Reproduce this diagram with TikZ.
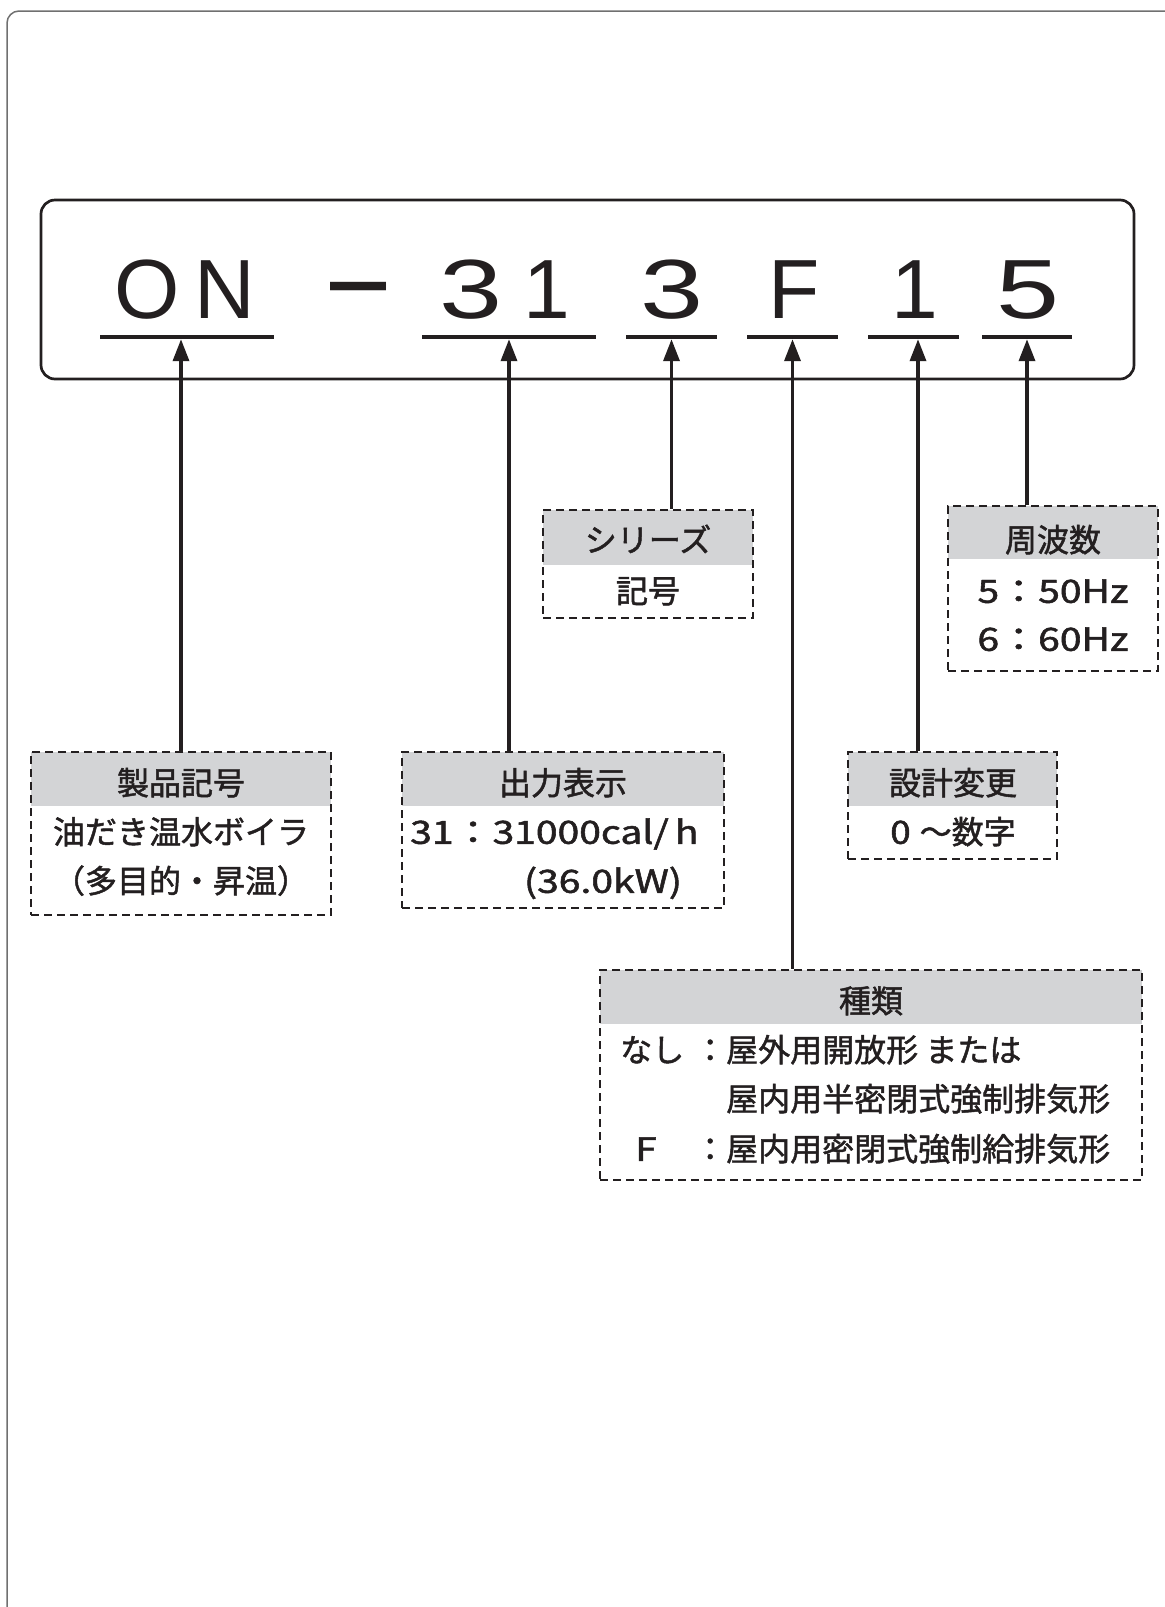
\documentclass[tikz,border=0pt]{standalone}
\usepackage{fontspec}
\setmainfont{Noto Sans CJK JP}[FakeBold=1.5]
\newfontfamily\bigfont{Liberation Sans}
\usetikzlibrary{arrows.meta}
\definecolor{ink}{HTML}{231F20}
\definecolor{hdr}{HTML}{D3D4D6}
\definecolor{framec}{HTML}{707070}
\newcommand{\wideLat}[1]{\scalebox{1.22}[1]{#1}}
\begin{document}
\begin{tikzpicture}[x=1pt,y=-1pt,
  txt/.style={font=\fontsize{32}{38}\selectfont, text=ink, inner sep=0pt, text height=0.88em, text depth=0.12em, yshift=-10pt},
  big/.style={font=\bigfont\fontsize{84}{90}\selectfont, text=ink, inner sep=0pt, anchor=base},
  uline/.style={fill=ink, inner sep=0pt, minimum height=4pt},
  dbox/.style={draw=ink, line width=2.5pt, dash pattern=on 8pt off 5pt, inner sep=0pt},
  hdrbox/.style={fill=hdr, inner sep=0pt},
  arr/.style={draw=ink, line width=3.5pt, -{Triangle[length=22pt,width=16pt]}},
]
\useasboundingbox (0,0) rectangle (1165,1607);
% outer frame
\draw[framec, line width=1.5pt, rounded corners=12pt] (1170,11) -- (7,11) -- (7,1612);
% main box
\node[draw=ink, line width=2.7pt, rounded corners=14pt, minimum width=1093pt, minimum height=179pt, inner sep=0pt] (main) at (587.5,289.5) {};
% big characters
\node[big] (cO) at (147.5,318) {O};
\node[big] (cN) at (225,318) {N};
\node[big] (cdash) at (359,318) {\scalebox{1.2}[1.5]{–}};
\node[big] (c3a) at (471,318) {\scalebox{1.35}[1]{3}};
\node[big] (c1a) at (547,318) {1};
\node[big] (c3b) at (672,318) {\scalebox{1.35}[1]{3}};
\node[big] (cF) at (794,318) {F};
\node[big] (c1b) at (914.5,318) {1};
\node[big] (c5) at (1028,318) {\scalebox{1.35}[1]{5}};
% underlines
\node[uline, minimum width=174pt] (uON) at (187,337) {};
\node[uline, minimum width=174pt] (u31) at (509,337) {};
\node[uline, minimum width=91pt] (u3) at (671.5,337) {};
\node[uline, minimum width=91pt] (uF) at (792.5,337) {};
\node[uline, minimum width=91pt] (u1) at (913.5,337) {};
\node[uline, minimum width=90pt] (u5) at (1027,337) {};
% box 1
\node[hdrbox, minimum width=300pt, minimum height=54pt] (h1) at (181,779) {};
\node[dbox, minimum width=300pt, minimum height=163pt] (b1) at (181,833.5) {};
\node[txt] (t1a) at (181,781) {製品記号};
\node[txt] (t1b) at (181,830) {油だき温水ボイラ};
\node[txt] (t1c) at (181,879) {（多目的・昇温）};
% box 2
\node[hdrbox, minimum width=322pt, minimum height=54pt] (h2) at (563,779) {};
\node[dbox, minimum width=322pt, minimum height=156pt] (b2) at (563,830) {};
\node[txt] (t2a) at (563,781) {出力表示};
\node[txt, anchor=west] (t2b) at (410,830) {\wideLat{31：31000cal/\hspace{5pt}h}};
\node[txt] (t2c) at (603,879) {\wideLat{(36.0kW)}};
% box 3
\node[hdrbox, minimum width=210pt, minimum height=55pt] (h3) at (648,537.5) {};
\node[dbox, minimum width=210pt, minimum height=108pt] (b3) at (648,564) {};
\node[txt] (t3a) at (648,538) {シリーズ};
\node[txt] (t3b) at (648,589) {記号};
% box 4
\node[hdrbox, minimum width=210pt, minimum height=53pt] (h4) at (1053,532.5) {};
\node[dbox, minimum width=210pt, minimum height=165pt] (b4) at (1053,588.5) {};
\node[txt] (t4a) at (1053,538) {周波数};
\node[txt] (t4b) at (1053,589) {\wideLat{5：50Hz}};
\node[txt] (t4c) at (1053,637) {\wideLat{6：60Hz}};
% box 5
\node[hdrbox, minimum width=209pt, minimum height=54pt] (h5) at (952.5,779) {};
\node[dbox, minimum width=209pt, minimum height=107pt] (b5) at (952.5,805.5) {};
\node[txt] (t5a) at (953,781) {設計変更};
\node[txt] (t5b) at (953,830) {\scalebox{1.15}[1]{0}\hspace{9pt}～数字};
% box 6
\node[hdrbox, minimum width=542pt, minimum height=54pt] (h6) at (871,997) {};
\node[dbox, minimum width=542pt, minimum height=210pt] (b6) at (871,1075) {};
\node[txt] (t6a) at (871,999) {種類};
\node[txt, anchor=west] (t6b) at (620,1048) {なし};
\node[txt, anchor=west] (t6c) at (694,1048) {：屋外用開放形 または};
\node[txt, anchor=west] (t6d) at (726,1097) {屋内用半密閉式強制排気形};
\node[txt] (t6e) at (646,1147) {\wideLat{F}};
\node[txt, anchor=west] (t6f) at (694,1147) {：屋内用密閉式強制給排気形};
% arrows
\coordinate (a1) at ([xshift=4.5pt]u1.south);
\draw[arr] (b1.north) -- (b1.north |- uON.south);
\draw[arr] (u31.south |- b2.north) -- (u31.south);
\draw[arr] (u3.south |- b3.north) -- (u3.south);
\draw[arr] (uF.south |- b6.north) -- (uF.south);
\draw[arr] (a1 |- b5.north) -- (a1);
\draw[arr] (u5.south |- b4.north) -- (u5.south);
\end{tikzpicture}
\end{document}
